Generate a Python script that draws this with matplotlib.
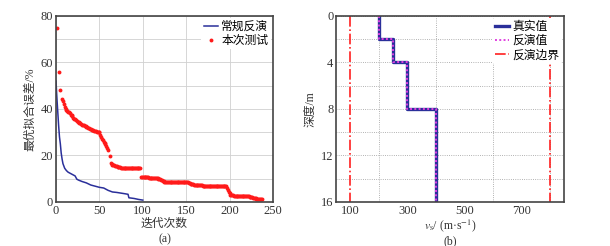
import numpy as np
import matplotlib
matplotlib.use("Agg")
import matplotlib.pyplot as plt
from matplotlib.ticker import MultipleLocator, FixedLocator

plt.rcParams['font.family'] = ['Liberation Serif', 'Noto Sans CJK SC']
plt.rcParams['mathtext.fontset'] = 'stix'
plt.rcParams['axes.unicode_minus'] = False

# (a) 常规反演
conv_iter = [0, 1, 2, 3, 4, 5, 6, 7, 8, 9, 10, 12, 14, 17, 20, 22, 24, 26, 30,
             35, 40, 45, 50, 55, 60, 65, 70, 75, 80, 83, 84, 90, 95, 100]
conv_err = [52, 45, 39, 33, 28, 25, 21, 18.5, 16.5, 15.5, 14.5, 13.5, 12.8, 12.2,
            11.6, 11.2, 9.8, 9.4, 8.8, 8.2, 7.3, 6.8, 6.3, 6.0, 5.0, 4.3, 4.1,
            3.8, 3.5, 3.3, 1.8, 1.5, 1.1, 0.8]

# (a) 本次测试
test_iter = [1, 3, 5, 7] + list(range(8, 61)) + list(range(62, 238))
test_err = [
    75, 56, 48, 44.5,
    43.5, 42, 41, 40.2, 39.5, 39.2, 38.8, 38.5, 38.2, 37.6,
    37.2, 36.8, 36.3, 35.8, 35.5, 35.2, 34.9, 34.6, 34.3, 34.0,
    33.8, 33.5, 33.3, 33.1, 32.9, 32.7, 32.5, 32.3, 32.1, 31.9,
    31.7, 31.5, 31.3, 31.1, 30.9, 30.8, 30.6, 30.5, 30.4, 30.3,
    30.2, 30.1, 29.9, 29.0, 28.0, 27.3, 26.6, 26.0, 25.4, 24.8,
    24.0, 23.2, 22.4,
    19.6, 16.8, 16.4, 16.1, 15.9, 15.7, 15.5, 15.4, 15.3, 15.2,
    15.1, 15.0, 14.9, 14.8, 14.8, 14.8, 14.8, 14.8, 14.8, 14.8,
    14.8, 14.8, 14.8, 14.8, 14.8, 14.8, 14.8, 14.8, 14.8, 14.8,
    14.8, 14.8, 14.8, 14.8, 14.8, 14.8,
    10.8, 10.8, 10.7, 10.7, 10.7, 10.6, 10.6, 10.6, 10.6, 10.5,
    10.5, 10.5, 10.4, 10.4, 10.4, 10.3, 10.3, 10.2, 10.2, 10.1,
    10.0, 9.9, 9.8, 9.6, 9.4, 9.2, 9.0, 8.8, 8.7, 8.6,
    8.5, 8.5, 8.5, 8.5, 8.5, 8.5, 8.5, 8.5, 8.5, 8.5,
    8.5, 8.5, 8.5, 8.5, 8.5, 8.5, 8.5, 8.5, 8.5, 8.5,
    8.5, 8.5, 8.5, 8.5, 8.5, 8.1, 8.0, 7.9, 7.8, 7.7,
    7.6, 7.5, 7.4, 7.4, 7.3, 7.3, 7.2, 7.2, 7.1, 7.1,
    7.1, 7.0, 7.0, 7.0, 7.0, 7.0, 7.0, 7.0, 7.0, 7.0,
    7.0, 7.0, 7.0, 7.0, 7.0, 7.0, 7.0, 7.0, 7.0, 7.0,
    7.0, 7.0, 7.0, 7.0, 7.0, 7.0, 7.0, 7.0, 7.0,
    5.8, 5.2, 4.5, 3.8, 3.2,
    2.9, 2.8, 2.8, 2.7, 2.7, 2.6, 2.6, 2.6, 2.6, 2.6,
    2.6, 2.6, 2.6, 2.5, 2.5, 2.4, 2.4, 2.4, 2.4, 2.4,
    2.4, 2.3, 2.2, 2.1, 2.0, 1.8, 1.7, 1.6, 1.5, 1.4,
    1.3, 1.3, 1.2, 1.2, 1.1, 1.1,
]

# (b) 速度剖面
depth = [0, 2, 2, 4, 4, 8, 8, 16]
vs_true = [200, 200, 250, 250, 300, 300, 400, 400]
vs_inv = [200, 200, 250, 250, 300, 300, 400, 400]
vs_bounds = [100, 800]
depth_range = [0, 16]


def style_axes(ax):
    for s in ax.spines.values():
        s.set_color('#444444')
        s.set_linewidth(1.2)
    ax.tick_params(which='both', length=0, pad=2, labelsize=9, colors='#333333')


def add_legend(ax):
    leg = ax.legend(loc='upper right', fontsize=8.5, frameon=True, handlelength=1.2,
                    handletextpad=0.3, borderpad=0.2, labelspacing=0.2,
                    borderaxespad=0.2)
    leg.get_frame().set_edgecolor('none')
    leg.get_frame().set_facecolor('white')
    leg.get_frame().set_alpha(1)


def main():
    fig = plt.figure(figsize=(6.1, 2.46), dpi=100)

    # (a)
    ax = fig.add_axes([0.0918, 0.179, 0.3557, 0.756])
    ax.plot(conv_iter, conv_err, color='#2a2f9a', lw=1.1, label='常规反演')
    ax.plot(test_iter, test_err, ls='none', marker='o', ms=2.8, mew=0,
            color='#ff1a1a', label='本次测试')
    ax.set_xlim(0, 250)
    ax.set_ylim(0, 80)
    ax.xaxis.set_major_locator(MultipleLocator(50))
    ax.yaxis.set_major_locator(MultipleLocator(20))
    ax.yaxis.set_minor_locator(MultipleLocator(10))
    ax.grid(True, which='both', color='#d0d0d0', lw=0.6)
    ax.set_axisbelow(True)
    style_axes(ax)
    ax.set_ylabel('最优拟合误差/%', fontsize=8.5, labelpad=3, color='#333333')
    ax.set_xlabel('迭代次数', fontsize=8.5, color='#333333', va='center')
    ax.xaxis.set_label_coords(0.5, -0.12)
    ax.text(0.5, -0.2, '(a)', transform=ax.transAxes, ha='center', va='center',
            fontsize=8.5, color='#333333')
    add_legend(ax)

    # (b)
    bx = fig.add_axes([0.551, 0.179, 0.3737, 0.756])
    bx.plot(vs_true, depth, color='#2a2f9a', lw=2.4, label='真实值')
    bx.plot(vs_inv, depth, color='#e040e0', lw=1.4, ls=(0, (1, 1.2)), label='反演值')
    for i, b in enumerate(vs_bounds):
        bx.plot([b, b], depth_range, color='#ff2020', lw=1.2, ls='-.',
                label='反演边界' if i == 0 else None)
    bx.set_xlim(50, 850)
    bx.set_ylim(16, 0)
    bx.xaxis.set_major_locator(FixedLocator([100, 300, 500, 700]))
    bx.xaxis.set_minor_locator(FixedLocator([200, 400, 600, 800]))
    bx.yaxis.set_major_locator(MultipleLocator(4))
    bx.yaxis.set_minor_locator(MultipleLocator(2))
    bx.grid(True, axis='x', which='minor', color='#999999', lw=0.6, ls=':')
    bx.grid(True, axis='y', which='both', color='#999999', lw=0.6, ls=':')
    bx.set_axisbelow(True)
    style_axes(bx)
    bx.set_ylabel('深度/m', fontsize=8.5, labelpad=3, color='#333333')
    bx.set_xlabel(r'$v_{\rm s}$/ (m·s$^{-1}$)', fontsize=8.5, color='#333333',
                  va='center')
    bx.xaxis.set_label_coords(0.5, -0.13)
    bx.text(0.5, -0.21, '(b)', transform=bx.transAxes, ha='center', va='center',
            fontsize=8.5, color='#333333')
    add_legend(bx)

    fig.savefig('out.png', dpi=100)


if __name__ == "__main__":
    main()
